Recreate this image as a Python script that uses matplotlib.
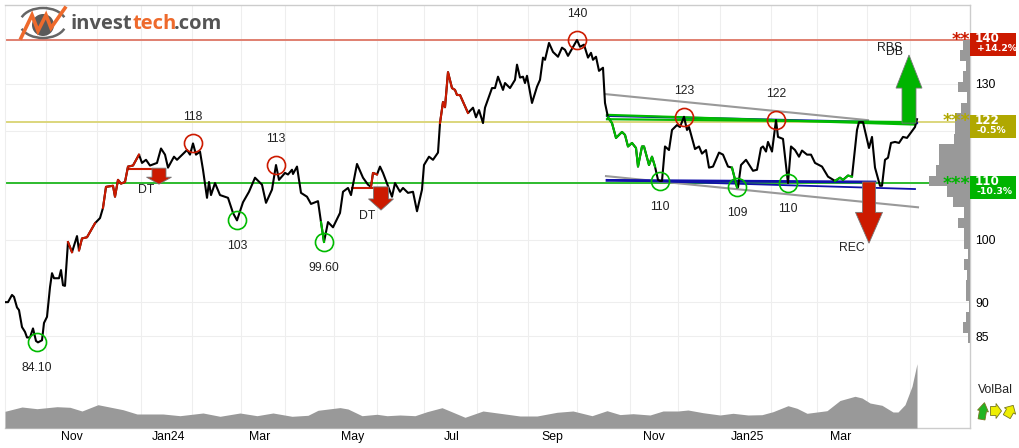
import numpy as np
import matplotlib.pyplot as plt
from matplotlib.patches import Ellipse, Polygon, Rectangle, Arc

# --- price history (chart position along the time axis, closing price) ---
price_pos = [6, 8, 12, 14, 17, 19, 22, 25, 27, 30, 33, 36, 38, 42, 44, 47, 50, 52, 54, 59, 61, 63, 65, 68, 72, 77, 79, 82, 87, 92,
             95, 100, 103, 106, 113, 115, 118, 121, 125, 128, 133, 139, 142, 146, 150, 157, 161, 165, 168, 174, 177, 187, 190, 193, 196, 200, 203, 207, 209, 211,
             215, 220, 228, 233, 237, 243, 249, 255, 262, 266, 272, 276, 279, 285, 288, 292, 293, 297, 301, 307, 311, 318, 321, 324, 328, 333, 340, 343, 348, 351,
             357, 363, 368, 371, 373, 377, 380, 383, 392, 395, 400, 403, 408, 413, 417, 422, 424, 429, 433, 438, 440, 443, 445, 448, 452, 455, 457, 460, 468, 473,
             476, 479, 483, 485, 492, 495, 498, 503, 505, 510, 515, 517, 520, 523, 525, 527, 532, 537, 540, 543, 545, 549, 553, 558, 562, 565, 568, 577, 580, 584,
             588, 591, 593, 596, 599, 603, 605, 608, 612, 616, 622, 625, 628, 632, 636, 638, 642, 644, 649, 652, 655, 658, 660, 662, 665, 669, 672, 677, 680, 684,
             687, 689, 695, 699, 702, 706, 709, 713, 719, 723, 728, 732, 737, 738, 741, 746, 753, 757, 761, 763, 766, 768, 772, 776, 778, 783, 788, 791, 795, 799,
             802, 807, 811, 815, 822, 828, 835, 840, 843, 848, 852, 857, 859, 863, 869, 872, 875, 880, 882, 885, 888, 891, 895, 899, 903, 907, 915, 917]
price = [90.0, 90.0, 91.1, 90.8, 89.2, 88.8, 86.3, 85.6, 84.8, 84.8, 86.1, 84.3, 84.1, 84.4, 86.9, 87.8, 92.3, 94.5, 93.7, 93.7, 95.0, 92.6, 92.5, 99.6, 97.9, 100.6, 98.2, 100.2, 100.4, 101.9,
         102.8, 103.7, 105.5, 109.3, 109.5, 107.5, 110.6, 109.9, 110.2, 113.1, 113.3, 115.4, 113.8, 114.4, 113.3, 113.8, 116.6, 115.4, 112.9, 115.0, 114.4, 116.3, 115.4, 117.6, 115.4, 116.0, 112.5, 107.3, 110.2, 107.8,
         110.0, 107.8, 107.3, 104.6, 103.3, 106.5, 108.4, 111.0, 109.7, 106.4, 108.8, 113.4, 110.6, 111.9, 111.6, 112.5, 111.7, 113.1, 108.2, 107.5, 106.2, 106.7, 103.0, 99.6, 103.0, 102.1, 104.6, 108.4, 109.1, 107.8,
         113.6, 111.0, 109.7, 109.3, 111.9, 111.6, 113.1, 111.9, 107.5, 110.0, 108.4, 109.1, 108.2, 108.4, 104.9, 108.8, 113.4, 115.0, 114.4, 115.8, 121.7, 126.1, 125.0, 132.6, 129.1, 128.7, 127.6, 127.6, 123.8, 124.9,
         122.9, 124.4, 121.7, 124.9, 129.1, 129.1, 131.6, 128.7, 130.2, 129.1, 130.9, 134.3, 131.4, 131.6, 130.2, 131.8, 125.9, 129.4, 130.9, 135.9, 135.4, 139.3, 137.2, 136.1, 138.2, 137.7, 136.3, 140.0, 138.4, 138.9,
         135.9, 137.0, 135.4, 136.1, 132.9, 133.6, 125.9, 122.9, 121.7, 118.7, 119.9, 119.3, 117.0, 117.7, 116.7, 113.1, 117.0, 117.0, 113.4, 115.0, 113.1, 110.6, 110.4, 110.4, 117.0, 116.3, 120.3, 121.3, 120.9, 123.0,
         120.3, 120.9, 116.5, 117.0, 115.6, 116.3, 112.9, 113.1, 115.8, 115.4, 113.1, 112.9, 109.2, 109.2, 113.4, 114.4, 112.3, 112.5, 116.7, 117.0, 116.0, 117.9, 116.0, 122.3, 118.9, 118.5, 110.0, 117.0, 116.3, 115.0,
         116.2, 115.4, 115.4, 113.8, 113.1, 111.2, 110.4, 111.0, 110.6, 111.4, 111.2, 120.3, 121.9, 121.9, 116.7, 118.9, 112.9, 109.5, 109.5, 114.4, 114.8, 117.7, 117.9, 117.7, 118.9, 118.7, 120.9, 122.5]

# stretches of the line coloured by trend signal
red_spans = [(68, 72), (79, 95), (103, 139), (371, 377), (440, 468)]
green_spans = [(321, 324), (608, 655), (732, 737), (835, 852)]

# tops and bottoms
top_pos = [193, 276, 577, 684, 776]
top_price = [117.6, 113.4, 140.0, 123.0, 122.3]
top_text = ['118', '113', '140', '123', '122']
bottom_pos = [37, 237, 324, 660, 737, 788]
bottom_price = [84.1, 103.3, 99.6, 110.4, 109.2, 110.0]
bottom_text = ['84.10', '103', '99.60', '110', '109', '110']

# volume along the bottom
vol_pos = [5, 22, 37, 57, 70, 82, 98, 123, 137, 163, 180, 203, 220, 240, 257, 273, 292, 308, 318, 340, 348, 362, 377, 387, 400, 415, 427, 442, 450, 465,
           483, 500, 520, 537, 557, 573, 592, 607, 620, 633, 650, 663, 678, 688, 703, 720, 733, 748, 762, 773, 788, 797, 807, 827, 840, 855, 862, 870, 882, 893,
           898, 905, 912, 917]
volume = [16.7, 21, 19.3, 21.3, 20.7, 17, 23.3, 18.3, 14, 14, 12.3, 15, 11.7, 15, 12.3, 15, 11.7, 12.7, 17.7, 20.4, 19, 12.3, 13.7, 12.3, 13, 12.3, 16.3, 20.3, 17, 10.7,
          17, 14.7, 12, 12, 15.7, 17, 12.3, 17.3, 13.4, 14.3, 13, 17, 17, 18, 15.3, 13, 14.7, 13, 13.3, 16.3, 22.3, 19.7, 14.7, 17.3, 27.5, 31.7, 30, 25, 22.7, 16,
          16, 23.3, 41.7, 64.3]

# volume traded per price band, lowest band first
profile_low, profile_high = 84.0, 140.0
profile = [1.7, 6.7, 4, 0.7, 4, 4, 3.3, 6, 1.7, 6, 6, 11.7, 6, 16.7, 22.7, 40.7, 34, 31.3, 31.3, 16, 15, 15, 9.3, 3.3, 11.7, 6.7, 4, 10, 7.3]

# support and resistance levels
level_price = [140, 122, 110]
level_colour = ['#e07f70', '#dcd67c', '#2dbb2d']
level_stars = ['**', '***', '***']
level_box = ['#cc1a00', '#b0a800', '#00b400']
level_change = ['+14.2%', '-0.5%', '-10.3%']

month_lines = [46, 97, 141, 192, 241, 285, 334, 377, 424, 477, 528, 577, 630, 678, 720, 771, 817, 867, 910]
month_pos = [72, 168, 260, 353, 452, 552, 654, 747, 841]
month_text = ['Nov', 'Jan24', 'Mar', 'May', 'Jul', 'Sep', 'Nov', 'Jan25', 'Mar']
grid_price = [85, 90, 100, 110, 120, 130, 140]
tick_price = [85, 90, 100, 130]

RED = '#cc1a00'
GREEN = '#00b400'
GREY = '#999999'
BLUE = '#1111aa'
FONT = 'Liberation Sans'
W, H = 1020, 448
rect = [5 / W, 20 / H, 965 / W, 423 / H]

fig = plt.figure(figsize=(W / 100, H / 100), dpi=100, facecolor='white')
plt.rcParams['font.family'] = FONT

ax = fig.add_axes(rect, zorder=1)
ax.set_yscale('log')
ax.set_xlim(5, 970)
ax.set_ylim(72.8, 148.5)

# grid and axis decoration
ax.set_xticks(month_lines)
ax.set_xticklabels([])
ax.set_xticks(month_pos, minor=True)
ax.set_xticklabels(month_text, minor=True, fontsize=8.8)
ax.tick_params(axis='x', which='both', length=0)
ax.tick_params(axis='x', which='minor', pad=2)
ax.yaxis.tick_right()
ax.set_yticks(grid_price)
ax.set_yticks([], minor=True)
ax.set_yticklabels([str(p) if p in tick_price else '' for p in grid_price], fontsize=8.8)
ax.tick_params(axis='y', length=0, pad=4)
ax.grid(True, which='major', color='#eeeeee', lw=0.8)
ax.set_axisbelow(True)
for side in ['top', 'right', 'bottom']:
    ax.spines[side].set_color('#cccccc')
    ax.spines[side].set_linewidth(1)
ax.spines['left'].set_color('#eeeeee')

for p, c in zip(level_price, level_colour):
    ax.axhline(p, color=c, lw=1.4, zorder=2)

# trend channel
ax.plot([605, 868], [127.8, 122.3], color=GREY, lw=1.5, zorder=3)
ax.plot([606, 918], [111.3, 105.6], color=GREY, lw=1.5, zorder=3)

# rectangle formation
ax.plot([607, 917], [123.2, 121.7], color=BLUE, lw=1.6, zorder=3)
ax.plot([607, 915], [110.6, 108.9], color=BLUE, lw=1.3, zorder=3)
ax.plot([607, 875], [110.5, 110.2], color=BLUE, lw=2.0, zorder=3)
ax.plot([607, 915], [123.4, 121.4], color='#00bb00', lw=1.6, zorder=4)
ax.plot([607, 915], [122.5, 121.9], color='#00bb00', lw=1.6, zorder=4)

# price line with the signal stretches on top
pos = np.array(price_pos)
val = np.array(price)
ax.plot(pos, val, color='black', lw=1.5, solid_joinstyle='round', zorder=5)
for spans, c in [(red_spans, RED), (green_spans, '#00bb00')]:
    for a, b in spans:
        m = (pos >= a) & (pos <= b)
        ax.plot(pos[m], val[m], color=c, lw=1.5, zorder=6)

# breakout levels under the two small arrows
ax.plot([128, 152], [112.6, 112.6], color=RED, lw=1.5, zorder=4)
ax.plot([352, 373], [109.1, 109.1], color=RED, lw=1.5, zorder=4)


def draw_arrow(x, base, neck, tip, shaft, head, colour):
    pts = [(x - shaft, base), (x + shaft, base), (x + shaft, neck), (x + head, neck),
           (x, tip), (x - head, neck), (x - shaft, neck)]
    ax.add_patch(Polygon(pts, closed=True, facecolor=colour, edgecolor='#777777', lw=0.6, zorder=7))


draw_arrow(159, 112.8, 111.1, 109.8, 7, 12.5, RED)
draw_arrow(381, 109.3, 107.1, 105.1, 7.5, 12.5, RED)
draw_arrow(869, 110.2, 104.7, 99.4, 6.5, 13.5, RED)
draw_arrow(909, 121.7, 129.1, 136.5, 7, 13, GREEN)

text_style = dict(fontsize=8.8, color='#222222', ha='center', va='center', zorder=9)
ax.text(146, 108.7, 'DT', **text_style)
ax.text(367, 104.0, 'DT', **text_style)
ax.text(852, 98.6, 'REC', **text_style)
ax.text(890, 138.2, 'RBS', **text_style)
ax.text(895, 137.1, 'DB', **text_style)

# tops in red circles, bottoms in green
ax.plot(top_pos, top_price, ls='none', marker='o', ms=13, mfc='none', mec=RED, mew=1.2, zorder=8)
ax.plot(bottom_pos, bottom_price, ls='none', marker='o', ms=13, mfc='none', mec='#00bb00', mew=1.2, zorder=8)
for x, y, s in zip(top_pos, top_price, top_text):
    ax.annotate(s, (x, y), xytext=(0, 18.7), textcoords='offset points', **text_style)
for x, y, s in zip(bottom_pos, bottom_price, bottom_text):
    ax.annotate(s, (x, y), xytext=(0, -18.7), textcoords='offset points', **text_style)

# volume area
ax_vol = fig.add_axes(rect, zorder=2, sharex=ax)
ax_vol.set_ylim(0, 423)
ax_vol.fill_between(vol_pos, volume, 0, color=GREY, lw=0)
ax_vol.axis('off')

# volume profile against the right edge
ax_prof = fig.add_axes(rect, zorder=2, sharey=ax)
ax_prof.set_xlim(965, 0)
edges = np.geomspace(profile_low, profile_high, len(profile) + 1)
ax_prof.barh(edges[:-1], profile, height=np.diff(edges), align='edge', color=GREY, lw=0)
ax_prof.axis('off')

# everything outside the plotting scales: logo, level boxes, VolBal
deco = fig.add_axes([0, 0, 1, 1], zorder=3)
deco.set_xlim(0, W)
deco.set_ylim(H, 0)
deco.axis('off')

deco.add_patch(Arc((43, 23), 46, 30, theta1=195, theta2=345, color='#666666', lw=1.8))
deco.add_patch(Arc((43, 23), 46, 30, theta1=15, theta2=165, color='#666666', lw=1.8))
deco.add_patch(Ellipse((43, 25), 22, 22, color='#5a5a5a', lw=0))
deco.plot([21, 32, 38, 46, 51, 65], [38, 15, 31, 15, 28, 8], color='#ee6a2c', lw=2.6, solid_joinstyle='miter')
logo = dict(family='Open Sans', fontsize=14.5, fontweight='bold', va='center', ha='left')
deco.text(71, 24, 'invest', color='#555555', **logo)
deco.text(133, 24, 'tech', color='#ee6a2c', **logo)
deco.text(174, 24, '.com', color='#555555', **logo)

box_top = [33, 115, 176]
star_y = [37, 118, 181]
for i, p in enumerate(level_price):
    t = box_top[i]
    deco.add_patch(Rectangle((970, t), 46, 22.7, color=level_box[i], lw=0))
    deco.text(970, star_y[i] + 3, level_stars[i], family='DejaVu Sans', fontsize=12.5, fontweight='bold',
              color=level_box[i], ha='right', va='center')
    deco.text(975, t + 5.5, str(p), family='DejaVu Sans', fontsize=8.6, fontweight='bold', color='white',
              ha='left', va='center')
    deco.text(977, t + 15.3, level_change[i], family='DejaVu Sans', fontsize=6.7, fontweight='bold', color='white',
              ha='left', va='center')

deco.text(995, 390, 'VolBal', fontsize=8.8, color='#222222', ha='center', va='center')


def small_arrow(cx, cy, angle, colour, length, head, shaft):
    # stubby signal arrow, drawn pointing up and then turned clockwise by angle
    shape = np.array([[-shaft, length / 2], [shaft, length / 2], [shaft, 0], [head, 0],
                      [0, -length / 2], [-head, 0], [-shaft, 0]], dtype=float)
    a = np.radians(angle)
    rot = np.array([[np.cos(a), -np.sin(a)], [np.sin(a), np.cos(a)]])
    deco.add_patch(Polygon(shape @ rot.T + [cx, cy], closed=True, facecolor=colour, edgecolor='#77771f', lw=0.6))


small_arrow(983, 411, 10, '#22b422', 17, 5.5, 3.5)
small_arrow(996, 411, 90, '#eeee00', 11, 7.5, 4.5)
small_arrow(1010, 411, 30, '#eeee00', 13, 6.5, 4)

plt.savefig('out.png', dpi=100, facecolor='white')
